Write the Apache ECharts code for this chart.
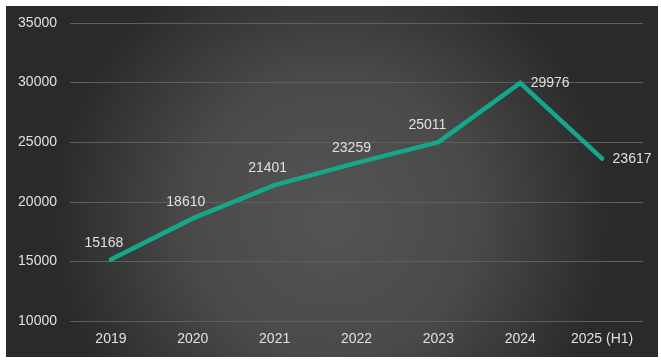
<!DOCTYPE html>
<html>
<head>
<meta charset="utf-8">
<script src="https://cdn.jsdelivr.net/npm/echarts@6/dist/echarts.min.js"></script>
<style>
html,body{margin:0;padding:0;background:#ffffff;width:661px;height:360px;overflow:hidden;}
#c{position:absolute;left:6px;top:6px;width:652px;height:351px;}
</style>
</head>
<body>
<div id="c"></div>
<script>
var categories = ['2019', '2020', '2021', '2022', '2023', '2024', '2025 (H1)'];
var values = [15168, 18610, 21401, 23259, 25011, 29976, 23617];
var yMin = 10000, yMax = 35000, yStep = 5000;

var chart = echarts.init(document.getElementById('c'), null, {renderer: 'canvas'});
var labelFont = {fontFamily: 'Liberation Sans, Arial, sans-serif', fontSize: 14, color: '#e0e0e0'};

function labelFor(i) {
  if (i >= 5) return {position: 'right', distance: 10, offset: [0, 0]};
  if (i === 4) return {position: 'top', distance: 9, offset: [-11, 0]};
  if (i === 3) return {position: 'top', distance: 7, offset: [-5, 0]};
  return null;
}

chart.setOption({
  animation: false,
  backgroundColor: {
    type: 'radial', x: 0.5, y: 0.6, r: 0.8,
    colorStops: [
      {offset: 0, color: '#545454'},
      {offset: 0.5, color: '#4a4a4a'},
      {offset: 1, color: '#2a2a2a'}
    ]
  },
  grid: {left: 64, right: 15, top: 17, bottom: 36, containLabel: false},
  xAxis: {
    type: 'category',
    data: categories,
    boundaryGap: true,
    axisLine: {show: false},
    axisTick: {show: false},
    axisLabel: Object.assign({margin: 11}, labelFont)
  },
  yAxis: {
    type: 'value',
    min: yMin, max: yMax, interval: yStep,
    axisLine: {show: false},
    axisTick: {show: false},
    splitLine: {lineStyle: {color: '#5e5e5e', width: 1}},
    axisLabel: Object.assign({margin: 13, formatter: function (v) { return String(v); }}, labelFont)
  },
  series: [{
    type: 'line',
    data: values.map(function (v, i) {
      var d = {value: v};
      var l = labelFor(i);
      if (l) d.label = l;
      return d;
    }),
    showSymbol: true,
    symbol: 'circle',
    symbolSize: 1,
    lineStyle: {color: '#14a88a', width: 4.5, cap: 'round', join: 'miter'},
    itemStyle: {color: 'rgba(0,0,0,0)'},
    label: Object.assign({show: true, position: 'top', distance: 9, offset: [-7, 0]}, labelFont)
  }]
});
</script>
</body>
</html>
